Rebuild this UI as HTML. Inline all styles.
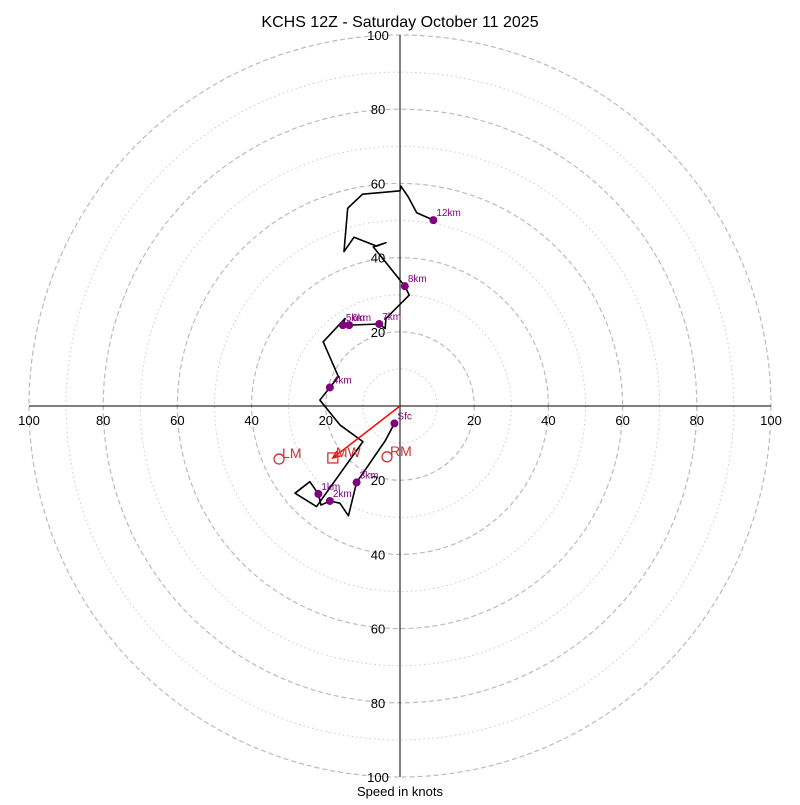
<!DOCTYPE html>
<html><head><meta charset="utf-8"><style>
body{margin:0;background:#fff}
text{font-family:"Liberation Sans","DejaVu Sans",sans-serif}
</style></head><body>
<svg id="c" width="800" height="800" xmlns="http://www.w3.org/2000/svg">
<text x="400" y="27" text-anchor="middle" font-size="16">KCHS 12Z - Saturday October 11 2025</text>
<text x="400" y="796" text-anchor="middle" font-size="13">Speed in knots</text>
</svg>
<script>
const ringLevels=[10,20,30,40,50,60,70,80,90,100];
const tickLabels=[20,40,60,80,100];
const traceU=[-1.5,-4.0,-11.7,-13.9,-16.2,-18.9,-21.3,-22.0,-24.3,-28.3,-22.5,-10.0,-16.2,-21.6,-18.9,-16.6,-20.7,-14.8,-15.4,-13.7,-5.6,-4.0,-3.8,2.5,1.3,-7.2,-3.8,-6.3,-12.4,-15.1,-14.1,-10.1,0,0.2,2.2,4.5,9.0];
const traceV=[-4.7,-9.4,-20.6,-29.6,-26.2,-25.6,-26.7,-23.7,-20.4,-23.5,-27.1,-9.6,-5.1,1.6,5.0,7.9,17.3,23.6,21.8,21.8,22.1,20.9,23.6,29.9,32.3,42.9,44.0,43.1,45.5,41.6,53.3,57.1,58.0,59.3,56.4,52.1,50.1];
const markerLabels=["Sfc","1km","2km","3km","4km","5km","6km","7km","8km","12km"];
const markerU=[-1.5,-22.0,-18.9,-11.7,-18.9,-15.4,-13.7,-5.6,1.3,9.0];
const markerV=[-4.7,-23.7,-25.6,-20.6,5.0,21.8,21.8,22.1,32.3,50.1];
const stormLabels=["LM","MW","RM"];
const stormU=[-32.6,-18.1,-3.5];
const stormV=[-14.3,-14.0,-13.7];
const CX=400,CY=406,K=3.71;
const X=u=>CX+u*K, Y=v=>CY-v*K;
const svg=document.getElementById('c');
const NS='http://www.w3.org/2000/svg';
function mk(t,a,p){const e=document.createElementNS(NS,t);for(const k in a)e.setAttribute(k,a[k]);(p||svg).appendChild(e);return e;}
ringLevels.forEach(r=>{
 const e=mk('circle',{cx:CX,cy:CY,r:r*K,fill:'none',stroke:r%20?'#ccc':'#bbb','stroke-width':r%20?1:1.2,'stroke-dasharray':r%20?'1.5,3':'5,3'});
 
 
});
let ax=mk('line',{x1:X(-100),y1:CY,x2:X(100),y2:CY,stroke:'#000'});


ax=mk('line',{x1:CX,y1:Y(100),x2:CX,y2:Y(-100),stroke:'#000'});


tickLabels.forEach(t=>{
 [-1,1].forEach(s=>{
  let e=mk('text',{x:X(s*t),y:CY+19,'text-anchor':'middle','font-size':13});e.textContent=t;
  
  
  e=mk('text',{x:CX-22,y:Y(s*t)+5,'text-anchor':'middle','font-size':13});e.textContent=t;
  
  
 });
});
const tr=mk('polyline',{points:traceU.map((u,i)=>X(u)+','+Y(traceV[i])).join(' '),fill:'none',stroke:'#000','stroke-width':1.6,'stroke-linejoin':'round'});


const ml=mk('line',{x1:CX,y1:CY,x2:X(stormU[1]),y2:Y(stormV[1]),stroke:'red','stroke-width':1.5});


{const ex=X(stormU[1]),ey=Y(stormV[1]),a=Math.atan2(ey-CY,ex-CX);
 const p=[[ex,ey],[ex-8*Math.cos(a-0.4),ey-8*Math.sin(a-0.4)],[ex-8*Math.cos(a+0.4),ey-8*Math.sin(a+0.4)]];
 const h=mk('polyline',{points:p[1]+' '+p[0]+' '+p[2],fill:'none',stroke:'red','stroke-width':1.5});
 
 }
stormLabels.forEach((l,i)=>{
 const x=X(stormU[i]),y=Y(stormV[i]);
 let e= l==='MW'? mk('rect',{x:x-5,y:y-5,width:10,height:10,fill:'none',stroke:'#c33','stroke-width':1.3}) : mk('circle',{cx:x,cy:y,r:5,fill:'none',stroke:'#c33','stroke-width':1.3});
 
 
 e=mk('text',{x:x+3,y:y-1,'font-size':14,fill:'#c33'});e.textContent=l;
 
 
});
markerLabels.forEach((l,i)=>{
 const x=X(markerU[i]),y=Y(markerV[i]);
 let e=mk('circle',{cx:x,cy:y,r:4,fill:'purple'});
 
 
 e=mk('text',{x:x+3,y:y-4,'font-size':10,fill:'purple'});e.textContent=l;
 
 
});
</script>
</body></html>
